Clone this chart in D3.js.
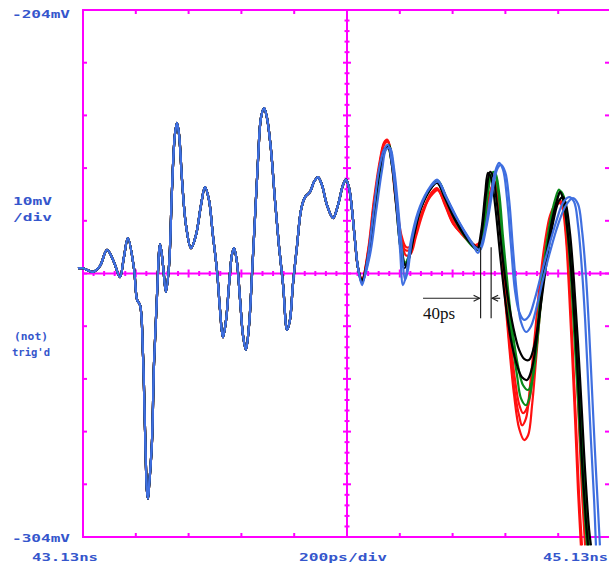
<!DOCTYPE html>
<html><head><meta charset="utf-8">
<script src="https://cdn.jsdelivr.net/npm/d3@7"></script>
<style>body{margin:0;background:#fff}svg{display:block}</style>
</head><body><svg id="c" width="609" height="568"></svg>
<script>
// time in ps after 43.13 ns, voltage in mV
const timeDomain = [0, 2000];
const voltDomain = [-304, -204];
const timeDiv = 200;   // ps/div
const voltDiv = 10;    // mV/div
const timeLabels = ["43.13ns", "200ps/div", "45.13ns"];
const voltLabels = ["-204mV", "10mV", "/div", "(not)", "trig'd", "-304mV"];
const markerTimes = [1506, 1546]; // 40 ps apart
const markerText = "40ps";

const common = [[-19,-253.0],[0,-253.0],[19,-253.4],[38,-253.7],[64,-252.6],[91,-249.5],[117,-251.8],[140,-254.7],[155,-250.9],[170,-247.3],[193,-253.0],[205,-259.0],[216,-260.0],[227,-269.1],[235,-283.7],[242,-295.1],[246,-296.7],[250,-294.5],[261,-286.2],[269,-271.0],[280,-258.5],[292,-248.4],[303,-252.4],[314,-257.5],[326,-252.4],[337,-238.1],[348,-227.7],[356,-225.4],[364,-227.7],[375,-236.2],[390,-244.8],[409,-249.2],[428,-246.7],[447,-241.0],[462,-237.6],[477,-240.0],[492,-246.7],[508,-253.7],[519,-260.9],[530,-266.1],[542,-262.8],[553,-256.2],[564,-250.5],[572,-249.2],[583,-251.8],[595,-259.0],[606,-265.7],[617,-268.5],[629,-263.8],[640,-254.3],[652,-242.9],[663,-232.4],[674,-224.5],[686,-222.6],[697,-224.5],[712,-230.5],[727,-240.0],[742,-248.6],[758,-256.2],[773,-264.7],[784,-262.8],[795,-256.2],[811,-248.6],[826,-241.9],[841,-239.5],[860,-238.5],[875,-236.6],[890,-235.7],[905,-237.2],[924,-241.0],[947,-243.5],[966,-241.0],[985,-237.2],[996,-236.2],[1008,-237.8],[1019,-241.9],[1030,-247.6],[1042,-253.0]];

const red1 = [[1057,-255.2],[1080,-249.5],[1102,-240.0],[1125,-232.4],[1140,-229.2],[1152,-228.6],[1167,-232.1],[1182,-239.1],[1201,-246.1],[1220,-249.5],[1239,-249.5],[1261,-246.1],[1288,-241.9],[1322,-238.5],[1341,-237.8],[1371,-241.0],[1398,-244.2],[1428,-246.1],[1458,-247.6],[1481,-248.6],[1500,-248.6],[1519,-244.8],[1538,-240.0],[1553,-237.2],[1564,-237.8],[1580,-244.8],[1595,-256.2],[1614,-267.6],[1633,-277.1],[1652,-283.4],[1671,-285.6],[1686,-284.7],[1701,-279.0],[1716,-270.4],[1735,-259.0],[1754,-249.9],[1773,-243.8],[1792,-241.0],[1807,-240.0],[1818,-241.9],[1830,-247.6],[1841,-257.1],[1852,-268.5],[1864,-281.8],[1875,-295.1],[1886,-305.6]];
const red2 = [[1057,-255.0],[1083,-249.0],[1106,-239.6],[1129,-232.0],[1144,-229.0],[1155,-228.8],[1170,-232.5],[1186,-239.5],[1205,-246.5],[1224,-249.0],[1242,-248.8],[1265,-245.5],[1292,-241.5],[1326,-238.8],[1345,-238.2],[1375,-241.3],[1402,-244.5],[1432,-246.4],[1462,-248.0],[1485,-249.0],[1504,-248.2],[1523,-243.8],[1542,-238.8],[1557,-236.5],[1568,-237.6],[1583,-245.5],[1599,-257.0],[1617,-268.0],[1636,-276.6],[1652,-281.0],[1663,-282.8],[1678,-281.5],[1693,-275.5],[1712,-265.5],[1731,-255.5],[1750,-248.0],[1769,-243.0],[1788,-241.0],[1807,-240.6],[1822,-242.6],[1833,-248.4],[1845,-258.0],[1856,-269.5],[1868,-283.0],[1879,-296.0],[1890,-305.6]];
const red3 = [[1057,-255.5],[1080,-250.0],[1102,-240.8],[1125,-233.0],[1140,-229.6],[1155,-229.0],[1170,-232.6],[1186,-240.0],[1205,-247.5],[1224,-250.6],[1242,-250.2],[1261,-247.0],[1288,-242.5],[1318,-239.0],[1341,-238.0],[1371,-240.6],[1402,-243.8],[1432,-246.0],[1462,-247.6],[1485,-248.6],[1504,-248.0],[1523,-244.0],[1542,-239.0],[1557,-236.6],[1568,-237.8],[1583,-244.6],[1599,-255.0],[1617,-265.5],[1636,-274.0],[1652,-278.8],[1667,-280.5],[1686,-279.0],[1705,-272.5],[1724,-262.8],[1742,-254.0],[1761,-247.2],[1780,-242.8],[1799,-240.8],[1818,-240.6],[1833,-243.2],[1845,-249.5],[1856,-258.5],[1868,-270.0],[1879,-283.0],[1890,-295.5],[1902,-305.6]];
const green1 = [[1057,-255.8],[1080,-251.1],[1102,-242.3],[1125,-234.0],[1144,-230.5],[1155,-229.8],[1170,-233.4],[1186,-240.6],[1201,-248.6],[1216,-252.4],[1231,-251.1],[1250,-246.7],[1277,-241.9],[1314,-238.1],[1341,-236.6],[1371,-239.7],[1409,-243.8],[1447,-247.1],[1474,-248.8],[1496,-249.5],[1515,-245.7],[1530,-239.1],[1546,-235.3],[1557,-234.7],[1572,-238.1],[1587,-246.7],[1606,-257.1],[1625,-266.6],[1644,-273.3],[1659,-277.7],[1678,-279.0],[1693,-277.1],[1712,-269.5],[1731,-259.0],[1750,-250.5],[1769,-244.2],[1788,-240.0],[1803,-238.1],[1814,-239.1],[1830,-243.8],[1845,-252.4],[1860,-264.7],[1875,-278.0],[1890,-291.3],[1902,-300.8],[1909,-305.6]];
const green2 = [[1057,-255.6],[1083,-250.8],[1106,-242.1],[1129,-233.8],[1148,-230.2],[1159,-229.6],[1174,-233.2],[1189,-240.4],[1205,-248.2],[1220,-252.0],[1235,-250.8],[1254,-246.5],[1280,-241.6],[1318,-237.8],[1345,-236.4],[1375,-239.5],[1413,-243.5],[1451,-246.9],[1477,-248.6],[1500,-249.2],[1519,-245.3],[1534,-238.8],[1549,-235.0],[1561,-234.9],[1576,-238.6],[1591,-247.1],[1610,-257.0],[1629,-265.6],[1648,-271.6],[1667,-275.2],[1686,-276.1],[1701,-274.4],[1720,-267.2],[1739,-257.5],[1758,-249.7],[1777,-243.8],[1796,-239.9],[1810,-238.4],[1822,-239.5],[1837,-244.4],[1852,-253.3],[1868,-265.5],[1883,-279.0],[1898,-292.0],[1909,-301.2],[1917,-305.6]];
const black1 = [[1057,-255.6],[1080,-251.1],[1102,-242.3],[1125,-234.0],[1144,-230.5],[1155,-230.0],[1170,-233.4],[1186,-241.0],[1201,-248.6],[1216,-253.0],[1231,-251.8],[1250,-247.3],[1277,-241.9],[1314,-238.1],[1341,-236.8],[1371,-239.7],[1409,-243.8],[1447,-246.9],[1474,-248.6],[1492,-249.5],[1508,-246.1],[1523,-239.1],[1534,-234.9],[1546,-235.9],[1561,-241.0],[1580,-250.5],[1599,-259.0],[1621,-266.6],[1644,-271.4],[1663,-273.7],[1682,-274.2],[1701,-271.9],[1720,-265.7],[1739,-257.1],[1758,-249.5],[1777,-243.8],[1796,-240.0],[1807,-238.5],[1818,-239.7],[1833,-244.8],[1849,-253.3],[1864,-264.7],[1879,-278.0],[1890,-289.4],[1905,-300.8],[1913,-305.6]];
const black2 = [[1057,-255.2],[1080,-250.5],[1102,-241.9],[1125,-233.8],[1144,-230.2],[1159,-229.8],[1174,-233.8],[1189,-241.3],[1205,-248.6],[1220,-252.4],[1235,-251.1],[1254,-246.7],[1280,-241.6],[1318,-237.8],[1345,-236.6],[1375,-239.5],[1413,-243.5],[1451,-246.7],[1477,-248.4],[1496,-249.2],[1512,-245.5],[1527,-238.8],[1542,-234.7],[1553,-235.5],[1568,-240.8],[1587,-249.9],[1606,-257.5],[1629,-264.0],[1652,-268.5],[1671,-270.2],[1689,-270.4],[1708,-268.0],[1727,-262.5],[1746,-255.6],[1765,-248.8],[1784,-243.5],[1803,-240.2],[1818,-239.5],[1830,-241.0],[1845,-246.5],[1860,-255.6],[1875,-267.2],[1890,-280.5],[1902,-291.5],[1917,-302.5],[1924,-305.6]];
const blue1 = [[1057,-256.2],[1076,-251.8],[1099,-242.9],[1121,-234.3],[1140,-230.5],[1155,-229.6],[1170,-233.0],[1186,-240.0],[1201,-249.5],[1212,-256.2],[1224,-254.3],[1239,-248.6],[1269,-242.3],[1303,-238.5],[1341,-236.2],[1371,-239.1],[1409,-242.9],[1447,-246.1],[1474,-248.2],[1496,-250.1],[1519,-246.7],[1542,-240.0],[1561,-234.7],[1576,-233.0],[1591,-234.3],[1606,-239.7],[1621,-248.6],[1636,-257.1],[1652,-261.3],[1671,-262.8],[1689,-262.1],[1712,-258.7],[1735,-254.3],[1761,-249.5],[1792,-244.2],[1818,-240.6],[1841,-239.5],[1860,-240.4],[1875,-244.8],[1890,-253.3],[1902,-262.8],[1913,-274.2],[1924,-285.6],[1936,-297.0],[1943,-305.6]];
const blue2 = [[1057,-255.8],[1087,-250.5],[1110,-242.3],[1133,-234.3],[1148,-230.5],[1163,-230.2],[1178,-234.0],[1193,-241.0],[1208,-249.5],[1220,-255.2],[1231,-253.3],[1246,-247.6],[1277,-241.6],[1314,-237.8],[1345,-236.6],[1379,-239.7],[1417,-243.5],[1455,-246.9],[1481,-248.8],[1504,-249.5],[1527,-245.4],[1549,-239.1],[1568,-234.3],[1583,-233.4],[1599,-234.7],[1614,-240.0],[1629,-249.5],[1644,-258.1],[1659,-263.2],[1678,-265.1],[1697,-264.0],[1720,-260.0],[1742,-255.2],[1769,-249.9],[1799,-244.8],[1830,-241.0],[1856,-239.7],[1875,-240.8],[1890,-245.7],[1905,-254.3],[1917,-264.7],[1928,-276.1],[1939,-287.5],[1951,-298.9],[1958,-305.6]];

const traceColors = {red: "#ff1010", green: "#0a8a1a", black: "#000000", blue: "#3f6fe0"};
const traces = [
  {name: "red", tail: red1}, {name: "red", tail: red2}, {name: "red", tail: red3},
  {name: "green", tail: green1}, {name: "green", tail: green2},
  {name: "black", tail: black1}, {name: "black", tail: black2},
  {name: "blue", tail: blue2}, {name: "blue", tail: blue1}
];

const svg = d3.select("#c");
const x = d3.scaleLinear().domain(timeDomain).range([83, 611]);
const y = d3.scaleLinear().domain(voltDomain).range([537, 10]);
const MAG = "#ff00ff";
const TXT = "#3556cc";

const tDivs = d3.range(timeDomain[0], timeDomain[1] + 1, timeDiv);
const vDivs = d3.range(voltDomain[0], voltDomain[1] + 1, voltDiv);
const tMid = (timeDomain[0] + timeDomain[1]) / 2;
const vMid = (voltDomain[0] + voltDomain[1]) / 2;

const g = svg.append("g");
// frame
g.append("rect").attr("x", x(timeDomain[0])).attr("y", y(voltDomain[1]))
  .attr("width", x(timeDomain[1]) - x(timeDomain[0])).attr("height", y(voltDomain[0]) - y(voltDomain[1]))
  .attr("fill", "none").attr("stroke", MAG).attr("stroke-width", 2);
// center lines
g.append("line").attr("x1", x(tMid)).attr("x2", x(tMid)).attr("y1", y(voltDomain[1])).attr("y2", y(voltDomain[0])).attr("stroke", MAG).attr("stroke-width", 2);
g.append("line").attr("x1", x(timeDomain[0])).attr("x2", x(timeDomain[1])).attr("y1", y(vMid)).attr("y2", y(vMid)).attr("stroke", MAG).attr("stroke-width", 2);
// frame ticks
const tk = 4;
tDivs.slice(1, -1).forEach(t => {
  g.append("line").attr("x1", x(t)).attr("x2", x(t)).attr("y1", y(voltDomain[1])).attr("y2", y(voltDomain[1]) + tk).attr("stroke", MAG).attr("stroke-width", 2);
  g.append("line").attr("x1", x(t)).attr("x2", x(t)).attr("y1", y(voltDomain[0])).attr("y2", y(voltDomain[0]) - tk).attr("stroke", MAG).attr("stroke-width", 2);
});
vDivs.slice(1, -1).forEach(v => {
  g.append("line").attr("y1", y(v)).attr("y2", y(v)).attr("x1", x(timeDomain[0])).attr("x2", x(timeDomain[0]) + tk).attr("stroke", MAG).attr("stroke-width", 2);
  g.append("line").attr("y1", y(v)).attr("y2", y(v)).attr("x1", x(timeDomain[1])).attr("x2", x(timeDomain[1]) - tk - 2).attr("stroke", MAG).attr("stroke-width", 2);
});
// minor ticks on center lines
d3.range(timeDomain[0], timeDomain[1] + 1, timeDiv / 5).forEach((t, i) => {
  const h = (i % 5 === 0) ? 4 : 2.5;
  g.append("line").attr("x1", x(t)).attr("x2", x(t)).attr("y1", y(vMid) - h).attr("y2", y(vMid) + h).attr("stroke", MAG).attr("stroke-width", 2);
});
d3.range(voltDomain[0], voltDomain[1] + 0.01, voltDiv / 5).forEach((v, i) => {
  const h = (i % 5 === 0) ? 4 : 2.5;
  g.append("line").attr("y1", y(v)).attr("y2", y(v)).attr("x1", x(tMid) - h).attr("x2", x(tMid) + h).attr("stroke", MAG).attr("stroke-width", 2);
});

// traces
svg.append("clipPath").attr("id", "clip").append("rect").attr("x", 74).attr("y", 5).attr("width", 540).attr("height", 541);
const line = d3.line().x(d => x(d[0])).y(d => y(d[1])).curve(d3.curveCatmullRom.alpha(0.5));
const tg = svg.append("g").attr("clip-path", "url(#clip)");
traces.forEach(tr => {
  tg.append("path").datum(common.concat(tr.tail)).attr("d", line)
    .attr("fill", "none").attr("stroke", traceColors[tr.name]).attr("stroke-width", 2.2)
    .attr("stroke-linejoin", "round");
});

// 40ps marker annotation
const ag = svg.append("g").attr("stroke", "#222").attr("stroke-width", 1.2).attr("fill", "none");
markerTimes.forEach(t => {
  ag.append("line").attr("x1", x(t)).attr("x2", x(t)).attr("y1", y(-249)).attr("y2", y(-262.5));
});
const ay = y(-258.7);
const arrowStart = 1288;
ag.append("line").attr("x1", x(arrowStart)).attr("x2", x(markerTimes[0]) - 1).attr("y1", ay).attr("y2", ay);
ag.append("path").attr("d", `M${x(markerTimes[0]) - 7},${ay - 3}L${x(markerTimes[0]) - 1},${ay}L${x(markerTimes[0]) - 7},${ay + 3}`);
ag.append("line").attr("x1", x(markerTimes[1]) + 1).attr("x2", x(markerTimes[1]) + 9).attr("y1", ay).attr("y2", ay);
ag.append("path").attr("d", `M${x(markerTimes[1]) + 7},${ay - 3}L${x(markerTimes[1]) + 1},${ay}L${x(markerTimes[1]) + 7},${ay + 3}`);
svg.append("text").attr("x", x(arrowStart)).attr("y", y(-262.7)).text(markerText)
  .attr("font-family", "Liberation Serif, serif").attr("font-size", 17).attr("fill", "#111");

// labels
function label(txt, px, py, len) {
  svg.append("text").attr("x", px).attr("y", py).text(txt)
    .attr("font-family", "DejaVu Sans Mono, monospace").attr("font-weight", "bold")
    .attr("font-size", 11).attr("fill", TXT)
    .attr("textLength", len).attr("lengthAdjust", "spacingAndGlyphs");
}
label(voltLabels[0], 12, 18, 58);
label(voltLabels[1], 13, 205, 39);
label(voltLabels[2], 13, 221, 39);
label(voltLabels[3], 14, 340, 34);
label(voltLabels[4], 12, 356, 38);
label(voltLabels[5], 12, 542, 58);
label(timeLabels[0], 32, 561, 66);
label(timeLabels[1], 299, 561, 88);
label(timeLabels[2], 543, 561, 65);
</script></body></html>
